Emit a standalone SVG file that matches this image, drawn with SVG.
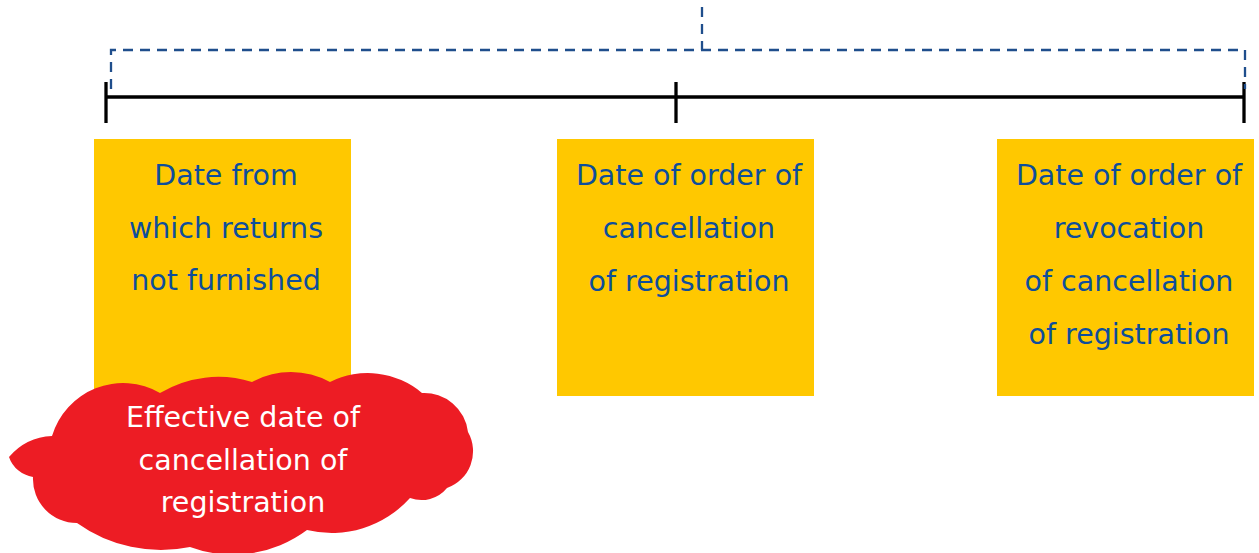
<svg xmlns="http://www.w3.org/2000/svg" width="1259" height="553" viewBox="0 0 1259 553">
<style>
.box{fill:#FFC800}
.t{font-family:"DejaVu Sans",Verdana,sans-serif;font-size:28.5px;fill:#0E4E9B;text-anchor:middle}
.w{font-family:"DejaVu Sans",Verdana,sans-serif;font-size:28.5px;fill:#FFFFFF;text-anchor:middle}
.axis{stroke:#000;stroke-width:3.3;fill:none}
.dash{stroke:#1F4E8C;stroke-width:2.3;fill:none;stroke-dasharray:10 7}
</style>
<rect width="1259" height="553" fill="#fff"/>
<g id="connectors">
<line class="axis" x1="106" y1="97" x2="1244" y2="97"/>
<line class="axis" x1="106" y1="82" x2="106" y2="123"/>
<line class="axis" x1="676" y1="82" x2="676" y2="123"/>
<line class="axis" x1="1244" y1="82" x2="1244" y2="123"/>
<path class="dash" d="M111,89 V50 H1245 V89"/>
<line class="dash" x1="702" y1="7" x2="702" y2="50"/>
</g>
<g id="node-returns">
<rect class="box" x="94" y="139" width="257" height="257"/>
<text class="t"><tspan x="226" y="185">Date from</tspan><tspan x="226" y="238">which returns</tspan><tspan x="226" y="290">not furnished</tspan></text>
</g>
<g id="node-order">
<rect class="box" x="557" y="139" width="257" height="257"/>
<text class="t"><tspan x="689" y="185">Date of order of</tspan><tspan x="689" y="238">cancellation</tspan><tspan x="689" y="291">of registration</tspan></text>
</g>
<g id="node-revocation">
<rect class="box" x="997" y="139" width="257" height="257"/>
<text class="t"><tspan x="1129" y="185">Date of order of</tspan><tspan x="1129" y="238">revocation</tspan><tspan x="1129" y="291">of cancellation</tspan><tspan x="1129" y="344">of registration</tspan></text>
</g>
<g id="node-effective">
<path fill="#ED1C24" d="M9,457 A60,60 0 0 1 52,436 A74,74 0 0 1 160,393 A113,113 0 0 1 252,382 A81,81 0 0 1 330,382 A84,84 0 0 1 422,393 A44,44 0 0 1 468,432 A39,39 0 0 1 447,488 A33,33 0 0 1 410,498 A105,105 0 0 1 307,530 A124,124 0 0 1 190,547 A144,144 0 0 1 77,523 A44,44 0 0 1 33,477 A30,30 0 0 1 9,457 Z"/>
<text class="w"><tspan x="243" y="427">Effective date of</tspan><tspan x="243" y="470">cancellation of</tspan><tspan x="243" y="512">registration</tspan></text>
</g>
</svg>
